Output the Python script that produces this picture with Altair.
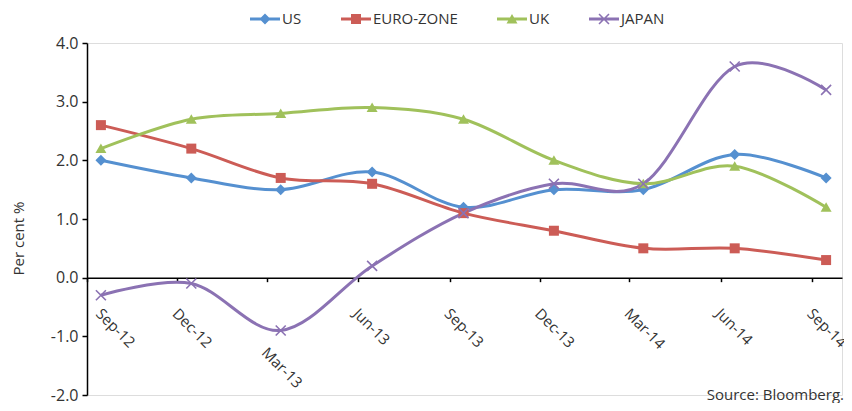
import altair as alt
import pandas as pd

# ---- data ----
periods = ["2012-09-15", "2012-12-15", "2013-03-15", "2013-06-15", "2013-09-15",
           "2013-12-15", "2014-03-15", "2014-06-15", "2014-09-15"]
series = ["US", "EURO-ZONE", "UK", "JAPAN"]
us = [2.0, 1.7, 1.5, 1.8, 1.2, 1.5, 1.5, 2.1, 1.7]
euro = [2.6, 2.2, 1.7, 1.6, 1.1, 0.8, 0.5, 0.5, 0.3]
uk = [2.2, 2.7, 2.8, 2.9, 2.7, 2.0, 1.6, 1.9, 1.2]
japan = [-0.3, -0.1, -0.9, 0.2, 1.1, 1.6, 1.6, 3.6, 3.2]
tick_months = [(2012, 9), (2012, 12), (2013, 3), (2013, 6), (2013, 9),
               (2013, 12), (2014, 3), (2014, 6), (2014, 9)]
y_ticks = [-2, -1, 0, 1, 2, 3, 4]
notes = ["Source: Bloomberg."]

colors = ["#5590D0", "#CC5C56", "#A0C15B", "#8B72B3"]
TEXT = "#333333"
FONT = "Open Sans"

values_by_series = dict(zip(series, [us, euro, uk, japan]))
df = pd.DataFrame(
    [{"date": d, "series": s, "value": v}
     for s in series for d, v in zip(periods, values_by_series[s])]
)

# ---- marker paths (style) ----
def f(v):
    return f"{v:.3f}"

def diamond(r):
    return f"M0,{f(-r)}L{f(r)},0L0,{f(r)}L{f(-r)},0Z"

def square(r):
    return f"M{f(-r)},{f(-r)}H{f(r)}V{f(r)}H{f(-r)}Z"

def triangle(r):
    return f"M0,{f(-r)}L{f(r*1.1)},{f(r*0.9)}H{f(-r*1.1)}Z"

def xmark(r, t):
    a = r + t * 0.7071
    b = r - t * 0.7071
    return (f"M{f(a)},{f(b)}L{f(b)},{f(a)}L{f(-a)},{f(-b)}L{f(-b)},{f(-a)}Z"
            f"M{f(-a)},{f(b)}L{f(b)},{f(-a)}L{f(a)},{f(-b)}L{f(-b)},{f(a)}Z")

plot_markers = [diamond(1.1), square(1.0), triangle(1.0), xmark(1.0, 0.16)]
line_seg = "M-1,-0.1H1V0.1H-1Z"
legend_markers = [line_seg + diamond(0.367), line_seg + square(0.333),
                  line_seg + triangle(0.333), line_seg + xmark(0.333, 0.053)]

W, H = 755, 352
zero_pos = H * 4 / 6

tick_dates = [alt.DateTime(year=y, month=m, date=1, utc=True) for y, m in tick_months]
x_domain = [alt.DateTime(year=2012, month=9, date=1, utc=True),
            alt.DateTime(year=2014, month=10, date=1, utc=True)]

is_first = "utcyear(datum.value) === 2012 && utcmonth(datum.value) === 8"
is_mar13 = "utcyear(datum.value) === 2013 && utcmonth(datum.value) === 2"

x_enc = alt.X(
    "date:T",
    scale=alt.Scale(type="utc", domain=x_domain),
    axis=alt.Axis(
        values=tick_dates, labelExpr="utcFormat(datum.value, '%b-%y')",
        title=None, grid=False,
        offset=-(H - zero_pos), labelAngle=45, labelAlign="left", labelBaseline="top",
        labelFlush=False, labelOverlap=False, tickSize=4, tickColor="#000",
        domainColor="#000", domainWidth=1.5, tickWidth=1.5,
        labelFontSize=15, labelColor=TEXT, labelFont=FONT,
        labelPadding={"condition": {"test": is_mar13, "value": 63}, "value": 24},
        labelOffset={"condition": {"test": is_first, "value": 16}, "value": 2},
    ),
)
y_enc = alt.Y(
    "value:Q",
    scale=alt.Scale(domain=[-2, 4], nice=False, zero=False),
    axis=alt.Axis(
        values=y_ticks,
        labelExpr="(datum.value < 0 ? '-' : '') + format(abs(datum.value), '.1f')",
        title="Per cent %", grid=False,
        tickSize=5, tickColor="#000", tickWidth=1.5, domainColor="#000", domainWidth=1.5,
        labelPadding=4, labelFontSize=16, labelColor=TEXT, labelFont=FONT,
        titleFontSize=15, titleFontWeight="normal", titleColor=TEXT, titleFont=FONT,
        titleX=-69, titleY=195, titleAngle=270, titleAlign="center", titleBaseline="middle",
    ),
)

color_scale = alt.Scale(domain=series, range=colors)

def make_legend():
    return alt.Legend(
        title=None, orient="none", direction="horizontal", columns=4,
        legendX=163, legendY=-39, padding=0,
        symbolSize=900, symbolStrokeWidth=0, symbolOpacity=1,
        labelFontSize=15, labelColor=TEXT, labelFont=FONT, labelOffset=2,
        columnPadding=39,
    )

# series-specific marker shapes via conditional values
shape_cond = {
    "condition": [{"test": f"datum.series === '{s}'", "value": p}
                  for s, p in zip(series[:-1], plot_markers[:-1])],
    "value": plot_markers[-1],
}

base = alt.Chart(df)
# legend-only layer (draws nothing): color + shape merged into one legend
legend_layer = base.transform_filter("false").mark_point(filled=True, opacity=1).encode(
    x=x_enc, y=y_enc,
    color=alt.Color("series:N", scale=color_scale, legend=make_legend()),
    shape=alt.Shape("series:N", scale=alt.Scale(domain=series, range=legend_markers),
                    legend=make_legend()),
)
lines = base.mark_line(interpolate="cardinal", strokeWidth=3).encode(
    x=x_enc, y=y_enc,
    color=alt.Color("series:N", scale=color_scale, legend=None),
)
points = base.mark_point(filled=True, size=100, opacity=1).encode(
    x=x_enc, y=y_enc,
    color=alt.Color("series:N", scale=color_scale, legend=None),
    shape=shape_cond,
)
source = alt.Chart(pd.DataFrame({"t": notes})).mark_text(
    align="right", baseline="alphabetic", fontSize=15, font=FONT, color=TEXT
).encode(text="t:N", x=alt.value(W + 2), y=alt.value(H + 5))

chart = alt.layer(legend_layer, lines, points, source).properties(
    width=W, height=H,
    autosize=alt.AutoSizeParams(type="none"),
    padding={"left": 79, "top": 35, "right": 2, "bottom": 8},
).configure_view(stroke=None).configure(font=FONT, background="white")

chart.save("out.html", embed_options={"renderer": "svg", "actions": False})
